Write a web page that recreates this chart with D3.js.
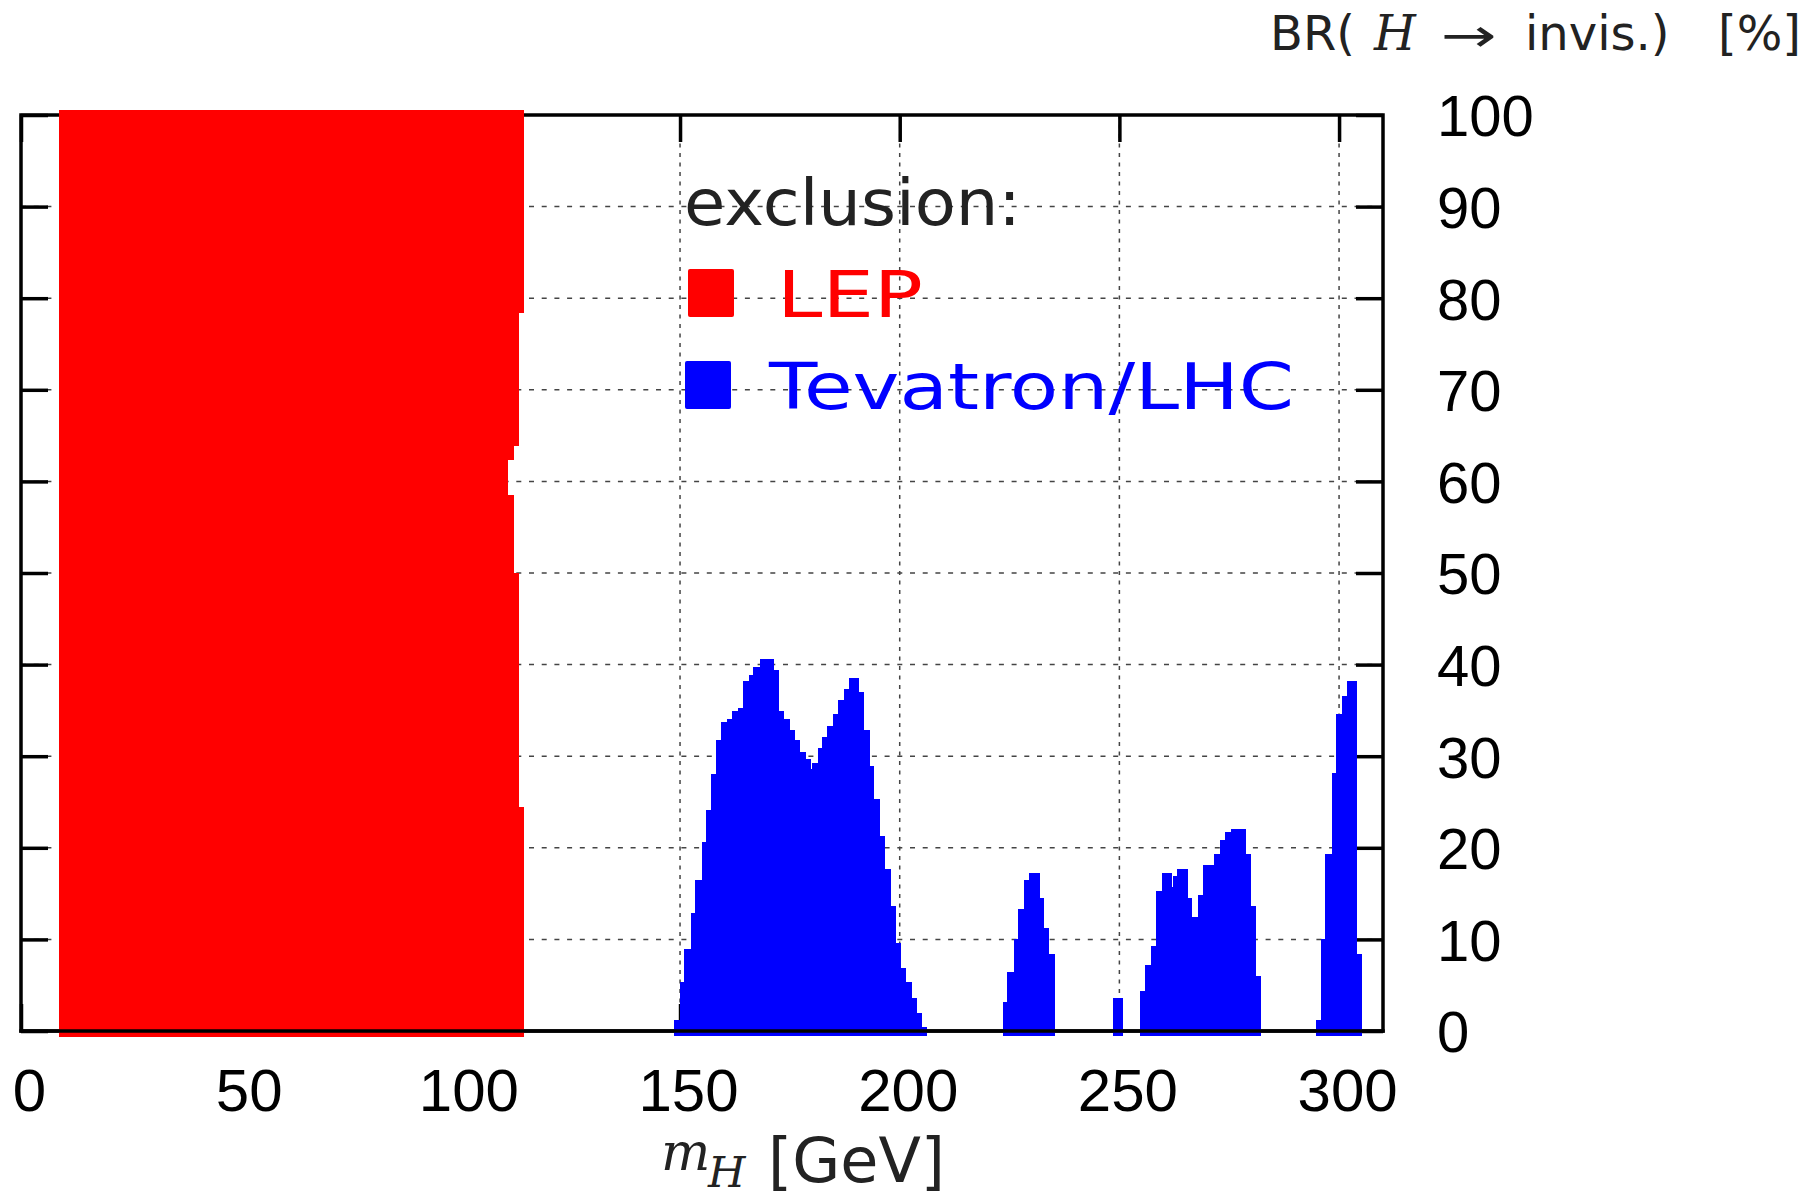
<html>
<head>
    <title>Higgs invisible exclusion</title>
    <script type="text/javascript" src="https://cdn.jsdelivr.net/npm/d3@7"></script>
    <style>
        body { margin: 0; background: white; }
    </style>
</head>
<body>

<div id="chart-container"></div>

<script type="text/javascript">

    // LEP exclusion: BR bands (edges, %) and the excluded mass reach in each band (GeV)
    var lepBREdges = [-0.5, 24.5, 50, 58.5, 62.5, 64, 78.5, 100.5];
    var lepMassMax = [114.55, 113.4, 112.3, 110.9, 112.3, 113.4, 114.55];
    var lepMassMin = 8.7;

    // Tevatron/LHC exclusion: mass bin edges (GeV) and excluded BR (%) per bin, 0 = gap
    var tevEdges = [
        148.7, 149.9, 151.0, 152.4, 153.5, 154.9, 156.0, 157.1, 158.3, 159.4, 160.8, 161.9,
        163.1, 164.4, 165.6, 166.7, 168.1, 171.2, 172.3, 173.5, 174.8, 176.0, 177.1, 178.5,
        179.6, 180.1, 181.3, 182.4, 183.5, 184.9, 186.0, 187.4, 188.5, 190.5, 191.7, 192.9,
        194.0, 195.4, 196.5, 197.7, 198.9, 200.1, 201.2, 202.6, 203.7, 204.9, 206.0,
        223.4, 224.5, 225.9, 227.0, 228.2, 229.5, 231.6, 232.7, 233.8, 235.1,
        248.6, 250.7,
        254.8, 255.9, 257.1, 258.4, 259.6, 261.7, 262.1, 263.2, 265.3, 266.4, 267.8, 268.0,
        269.1, 271.6, 272.8, 274.1, 275.3, 278.5, 279.7, 280.9, 282.0,
        294.7, 295.8, 296.9, 298.3, 299.4, 300.6, 301.7, 303.8, 304.9
    ];
    var tevBR = [
        1.2, 5.3, 8.9, 12.9, 16.5, 20.6, 24.1, 28.1, 31.8, 33.7, 34.1, 34.9,
        35.3, 38.2, 38.9, 39.7, 40.6, 39.4, 34.9, 34.1, 32.9, 31.8, 30.5, 29.7,
        28.6, 29.3, 30.9, 32.1, 33.3, 34.6, 36.1, 37.3, 38.5, 37.0, 32.9, 28.9,
        25.3, 21.3, 17.7, 13.7, 9.6, 6.9, 5.3, 3.6, 2.0, 0.4,
        0,
        3.2, 6.4, 10.0, 13.3, 16.5, 17.2, 14.5, 11.2, 8.4,
        0,
        3.6,
        0,
        4.4, 7.2, 9.3, 15.3, 17.2, 15.7, 16.9, 17.7, 14.5, 12.4, 11.2,
        14.8, 18.1, 19.3, 20.9, 21.7, 22.1, 19.3, 13.6, 6.0,
        0,
        1.2, 10.0, 19.3, 28.2, 34.6, 36.6, 38.2, 8.4
    ];

    // ticks
    var xTicks = [0, 50, 100, 150, 200, 250, 300];
    var yTicks = [0, 10, 20, 30, 40, 50, 60, 70, 80, 90, 100];
    var xGrid = [50, 100, 150, 200, 250, 300];
    var yGrid = [10, 20, 30, 40, 50, 60, 70, 80, 90];

    var legendItems = [
        {label: "LEP", color: "#ff0000"},
        {label: "Tevatron/LHC", color: "#0000ff"}
    ];

    var LEFT = 21, RIGHT = 1383, TOP = 115, BOTTOM = 1031;
    var TICK = 27;

    var canvas = d3.select("#chart-container").append("svg")
        .attr("width", 1800)
        .attr("height", 1199);

    canvas.append("rect").attr("width", 1800).attr("height", 1199).attr("fill", "white");

    var x = d3.scaleLinear().domain([0, 310]).range([LEFT, RIGHT]);
    var y = d3.scaleLinear().domain([0, 100]).range([BOTTOM, TOP]);

    // dashed grid
    canvas.selectAll("line.vgrid").data(xGrid).enter().append("line")
        .attr("class", "vgrid")
        .attr("x1", function(d) { return x(d); })
        .attr("x2", function(d) { return x(d); })
        .attr("y1", TOP).attr("y2", BOTTOM)
        .attr("stroke", "#444").attr("stroke-width", 1.5)
        .attr("stroke-dasharray", "4,5.5");
    canvas.selectAll("line.hgrid").data(yGrid).enter().append("line")
        .attr("class", "hgrid")
        .attr("x1", LEFT).attr("x2", RIGHT)
        .attr("y1", function(d) { return y(d); })
        .attr("y2", function(d) { return y(d); })
        .attr("stroke", "#444").attr("stroke-width", 1.5)
        .attr("stroke-dasharray", "5,7.7");

    // inward ticks on all four sides
    function tickAxis(axis, tx, ty) {
        var g = canvas.append("g").attr("transform", "translate(" + tx + "," + ty + ")").call(axis);
        g.select(".domain").remove();
        g.selectAll("line").attr("stroke", "black").attr("stroke-width", 3.5);
        g.selectAll("text").remove();
    }
    tickAxis(d3.axisRight(y).tickValues(yTicks).tickSize(TICK), LEFT, 0);
    tickAxis(d3.axisLeft(y).tickValues(yTicks).tickSize(TICK), RIGHT, 0);
    tickAxis(d3.axisBottom(x).tickValues(xTicks).tickSize(TICK), 0, TOP);
    tickAxis(d3.axisTop(x).tickValues(xTicks).tickSize(TICK), 0, BOTTOM);

    // frame
    canvas.append("rect")
        .attr("x", LEFT).attr("y", TOP)
        .attr("width", RIGHT - LEFT).attr("height", BOTTOM - TOP)
        .attr("fill", "none").attr("stroke", "black").attr("stroke-width", 3.5);

    // LEP region
    canvas.selectAll("rect.lep").data(lepMassMax).enter().append("rect")
        .attr("class", "lep")
        .attr("x", x(lepMassMin))
        .attr("y", function(d, i) { return y(lepBREdges[i + 1]); })
        .attr("width", function(d) { return x(d) - x(lepMassMin); })
        .attr("height", function(d, i) { return y(lepBREdges[i]) - y(lepBREdges[i + 1]) + 1; })
        .attr("fill", "#ff0000")
        .attr("shape-rendering", "crispEdges");

    // Tevatron/LHC bins
    var tevBins = tevBR.map(function(br, i) {
        return {lo: tevEdges[i], hi: tevEdges[i + 1], br: br};
    }).filter(function(d) { return d.br > 0; });

    canvas.selectAll("rect.tev").data(tevBins).enter().append("rect")
        .attr("class", "tev")
        .attr("x", function(d) { return x(d.lo); })
        .attr("y", function(d) { return y(d.br); })
        .attr("width", function(d) { return x(d.hi) - x(d.lo) + 1; })
        .attr("height", function(d) { return y(-0.5) - y(d.br); })
        .attr("fill", "#0000ff")
        .attr("shape-rendering", "crispEdges");

    // bottom axis line sits over the marks
    canvas.append("line")
        .attr("x1", LEFT - 1.75).attr("x2", RIGHT + 1.75)
        .attr("y1", BOTTOM).attr("y2", BOTTOM)
        .attr("stroke", "black").attr("stroke-width", 3.5);

    // tick labels
    var xLab = canvas.append("g").attr("transform", "translate(8," + BOTTOM + ")")
        .call(d3.axisBottom(x).tickValues(xTicks).tickSize(0).tickPadding(37));
    xLab.select(".domain").remove();
    xLab.selectAll("text")
        .attr("font-family", "Liberation Sans, Arial, sans-serif")
        .attr("font-size", 60).attr("fill", "black");

    var yLab = canvas.append("g").attr("transform", "translate(" + RIGHT + ",0)")
        .call(d3.axisRight(y).tickValues(yTicks).tickSize(0).tickPadding(54));
    yLab.select(".domain").remove();
    yLab.selectAll("text")
        .attr("font-family", "Liberation Sans, Arial, sans-serif")
        .attr("font-size", 58).attr("dy", "0.36em").attr("fill", "black");

    // axis titles
    var xTitle = canvas.append("text").attr("fill", "#222");
    xTitle.append("tspan").attr("x", 661).attr("y", 1170)
        .attr("font-family", "DejaVu Serif, serif").attr("font-style", "italic")
        .attr("font-size", 52).text("m");
    xTitle.append("tspan").attr("x", 708).attr("y", 1187)
        .attr("font-family", "DejaVu Serif, serif").attr("font-style", "italic")
        .attr("font-size", 43).text("H");
    xTitle.append("tspan").attr("x", 768).attr("y", 1182)
        .attr("font-family", "DejaVu Sans, sans-serif")
        .attr("font-size", 62).text("[GeV]");

    var yTitle = canvas.append("text").attr("y", 50).attr("fill", "#222")
        .attr("font-family", "DejaVu Sans, sans-serif").attr("font-size", 48);
    yTitle.append("tspan").attr("x", 1270).text("BR(");
    yTitle.append("tspan").attr("x", 1374)
        .attr("font-family", "DejaVu Serif, serif").attr("font-style", "italic").text("H");
    yTitle.append("tspan").attr("x", 1525).text("invis.)");
    yTitle.append("tspan").attr("x", 1718).text("[%]");

    // thin, wide arrow of the title
    canvas.append("text")
        .attr("transform", "translate(1441,51) scale(1.45,1)")
        .attr("font-family", "DejaVu Sans, sans-serif").attr("font-size", 46)
        .attr("fill", "#222")
        .text("\u2192");

    // legend
    canvas.append("text")
        .attr("x", 684).attr("y", 225)
        .attr("font-family", "DejaVu Sans, sans-serif").attr("font-size", 64)
        .attr("fill", "#222")
        .attr("textLength", 337).attr("lengthAdjust", "spacingAndGlyphs")
        .text("exclusion:");

    var legendX = [688, 685];
    var legendY = [317, 409];
    var legendW = [146, 525];
    var legend = canvas.selectAll("g.legend").data(legendItems).enter().append("g")
        .attr("class", "legend")
        .attr("transform", function(d, i) { return "translate(" + legendX[i] + "," + legendY[i] + ")"; });
    legend.append("rect")
        .attr("x", 0).attr("y", -48).attr("width", 46).attr("height", 48)
        .attr("rx", 2)
        .attr("fill", function(d) { return d.color; });
    legend.append("text")
        .attr("x", function(d, i) { return i === 0 ? 89 : 84; })
        .attr("y", 0)
        .attr("font-family", "DejaVu Sans, sans-serif").attr("font-size", 64)
        .attr("fill", function(d) { return d.color; })
        .attr("textLength", function(d, i) { return legendW[i]; })
        .attr("lengthAdjust", "spacingAndGlyphs")
        .text(function(d) { return d.label; });

</script>

</body>
</html>
